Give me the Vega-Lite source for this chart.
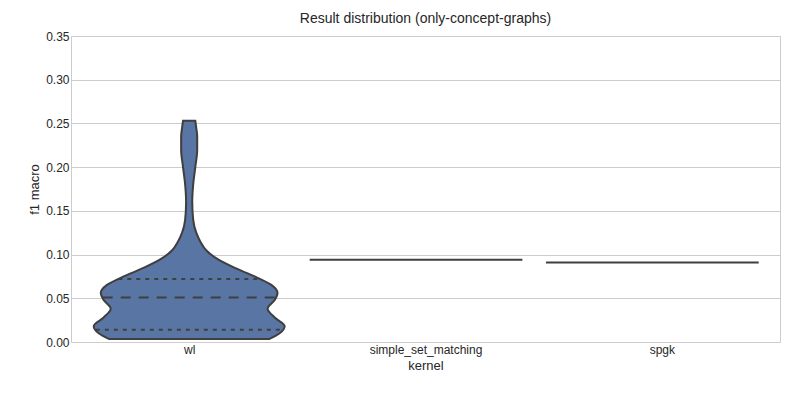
{
"$schema":"https://vega.github.io/schema/vega-lite/v6.json",
"width":800,"height":400,
"autosize":{"type":"fit","contains":"padding"},
"padding":{"left":28,"right":20,"top":12,"bottom":28},
"config":{"font":"Liberation Sans","view":{"stroke":"#cccccc"},
"axis":{"labelFontSize":12,"titleFontSize":13,"titleFontWeight":"normal","labelColor":"#262626","titleColor":"#262626","domain":false,"ticks":false,"gridColor":"#cccccc"}},
"title":{"text":"Result distribution (only-concept-graphs)","fontSize":14,"fontWeight":"normal","color":"#262626"},
"datasets":{
"violin":[
{"y":0.0035,"lo":-0.34,"hi":0.34},
{"y":0.01,"lo":-0.383,"hi":0.383},
{"y":0.018,"lo":-0.404,"hi":0.404},
{"y":0.028,"lo":-0.362,"hi":0.362},
{"y":0.038,"lo":-0.332,"hi":0.332},
{"y":0.048,"lo":-0.362,"hi":0.362},
{"y":0.056,"lo":-0.374,"hi":0.374},
{"y":0.065,"lo":-0.349,"hi":0.349},
{"y":0.075,"lo":-0.277,"hi":0.277},
{"y":0.085,"lo":-0.191,"hi":0.191},
{"y":0.095,"lo":-0.119,"hi":0.119},
{"y":0.105,"lo":-0.072,"hi":0.072},
{"y":0.115,"lo":-0.047,"hi":0.047},
{"y":0.125,"lo":-0.03,"hi":0.03},
{"y":0.14,"lo":-0.017,"hi":0.017},
{"y":0.16,"lo":-0.013,"hi":0.013},
{"y":0.18,"lo":-0.017,"hi":0.017},
{"y":0.20,"lo":-0.026,"hi":0.026},
{"y":0.22,"lo":-0.034,"hi":0.034},
{"y":0.235,"lo":-0.034,"hi":0.034},
{"y":0.245,"lo":-0.03,"hi":0.03},
{"y":0.253,"lo":-0.026,"hi":0.026}
],
"quart":[
{"y":0.014,"lo":-0.395,"hi":0.395,"q":"q"},
{"y":0.051,"lo":-0.366,"hi":0.366,"q":"m"},
{"y":0.072,"lo":-0.3,"hi":0.3,"q":"q"}
],
"flat":[
{"y":0.094,"lo":0.51,"hi":1.41},
{"y":0.091,"lo":1.51,"hi":2.41}
]},
"layer":[
{"data":{"name":"violin"},"mark":{"type":"area","orient":"horizontal","fill":"#5975a4","stroke":"#3f3f3f","strokeWidth":2,"interpolate":"monotone"},
"encoding":{"y":{"field":"y","type":"quantitative","scale":{"domain":[0,0.35]},"axis":{"values":[0,0.05,0.1,0.15,0.2,0.25,0.3,0.35],"format":".2f","title":"f1 macro"}},
"x":{"field":"lo","type":"quantitative","scale":{"domain":[-0.5,2.5],"nice":false},"axis":{"values":[0,1,2],"grid":false,"title":"kernel","labelExpr":"['wl','simple_set_matching','spgk'][datum.value]"}},
"x2":{"field":"hi"}}},
{"data":{"name":"quart"},"mark":{"type":"rule","stroke":"#3f3f3f","strokeWidth":2,"strokeDash":[4,5]},"transform":[{"filter":"datum.q=='q'"}],
"encoding":{"y":{"field":"y","type":"quantitative"},"x":{"field":"lo","type":"quantitative"},"x2":{"field":"hi"}}},
{"data":{"name":"quart"},"mark":{"type":"rule","stroke":"#3f3f3f","strokeWidth":2,"strokeDash":[10,8]},"transform":[{"filter":"datum.q=='m'"}],
"encoding":{"y":{"field":"y","type":"quantitative"},"x":{"field":"lo","type":"quantitative"},"x2":{"field":"hi"}}},
{"data":{"name":"flat"},"mark":{"type":"rule","stroke":"#3f3f3f","strokeWidth":2},
"encoding":{"y":{"field":"y","type":"quantitative"},"x":{"field":"lo","type":"quantitative"},"x2":{"field":"hi"}}}
]}
